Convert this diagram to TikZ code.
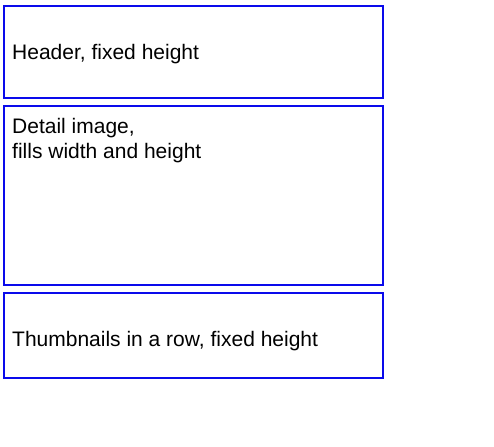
\documentclass[tikz,border=0pt]{standalone}
\usepackage{fontspec}
\setmainfont{Liberation Sans}
\usetikzlibrary{positioning}

\tikzset{
  panel/.style={draw=panelblue, line width=2pt, anchor=north west, minimum width=379pt, inner sep=0pt},
  caption/.style={font=\fontsize{21}{25}\selectfont, inner sep=0pt, align=left}
}
\definecolor{panelblue}{RGB}{10,10,235}

\begin{document}
\begin{tikzpicture}[x=1pt,y=-1pt]

  \useasboundingbox (0,0) rectangle (494,446);

  % the three panels
  \node[panel, minimum height=92pt] (header) at (3,5) {};
  \node[panel, minimum height=179pt] (detail) at (3,105) {};
  \node[panel, minimum height=85pt] (thumbs) at (3,292) {};

  % their captions
  \node[caption, anchor=base west] (headertext) at (12,60) {Header, fixed height};
  \node[caption, anchor=base west] (detailtext) at (12,159) {Detail image,\\fills width and height};
  \node[caption, anchor=base west] (thumbstext) at (12,346) {Thumbnails in a row, fixed height};

\end{tikzpicture}
\end{document}
